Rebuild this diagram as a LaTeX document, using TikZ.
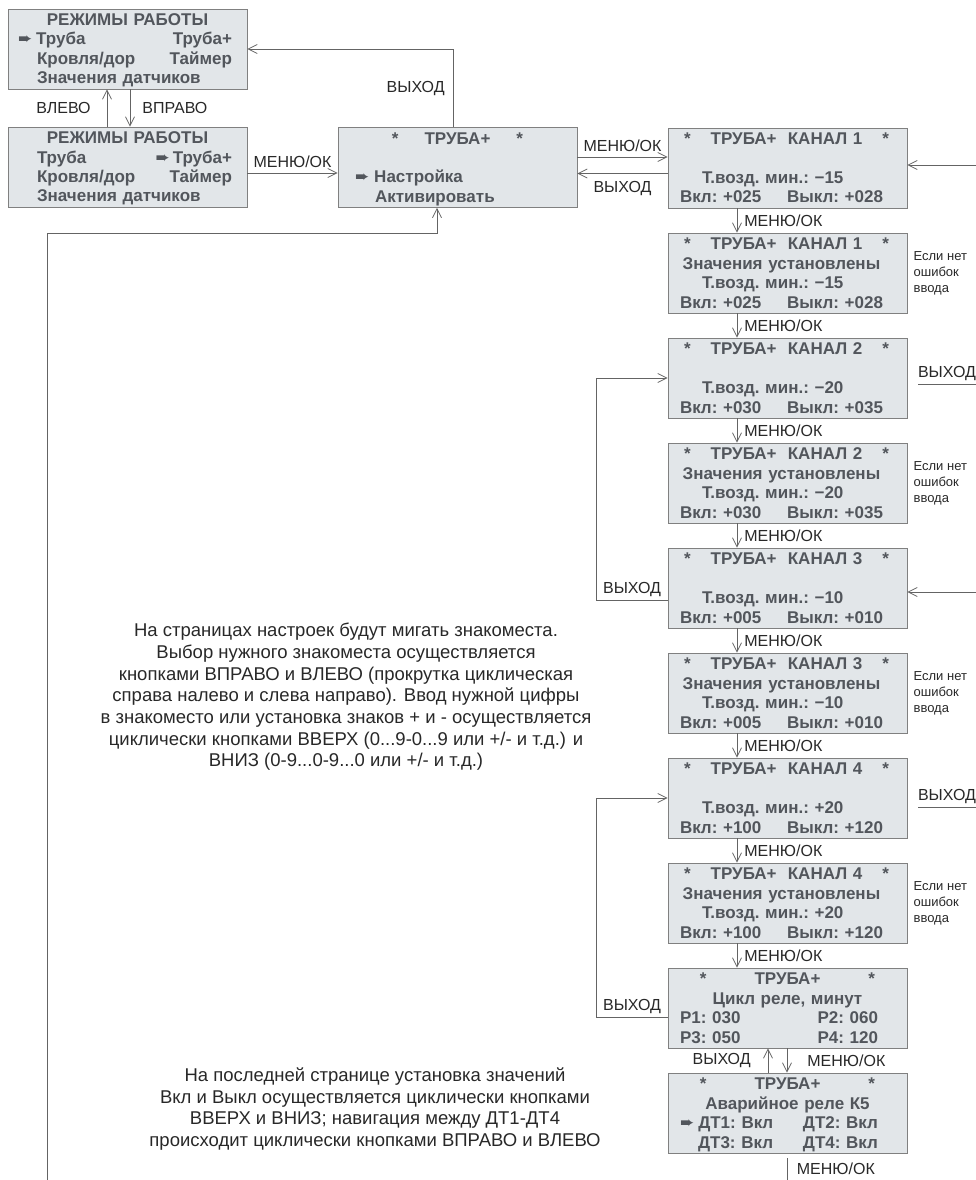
\documentclass[tikz,border=0pt]{standalone}
\usepackage{fontspec}
\setmainfont{Liberation Sans}
\newfontfamily\symfont{DejaVu Sans}
\usetikzlibrary{arrows.meta,positioning}

\definecolor{lcdfill}{RGB}{226,230,233}
\definecolor{lcdborder}{RGB}{128,128,128}
\definecolor{lcdtext}{RGB}{82,86,92}
\definecolor{lbltext}{RGB}{40,40,40}
\definecolor{wirecol}{RGB}{100,100,100}

\tikzset{
  lcd/.style={draw=lcdborder, fill=lcdfill, line width=0.8pt,
    minimum width=239pt, minimum height=80pt, text width=215pt,
    inner xsep=12pt, inner ysep=0pt, align=left, text=lcdtext,
    font=\fontsize{17}{19.5}\selectfont\bfseries\frenchspacing,
    execute at begin node={\rule{0pt}{15.5pt}},
    execute at end node={\rule[-4pt]{0pt}{4pt}}},
  lbl/.style={text=lbltext, inner sep=1pt, font=\fontsize{16}{18}\selectfont},
  note/.style={text=lbltext, inner sep=0pt, align=left, font=\fontsize{13}{16}\selectfont},
  para/.style={text=lbltext, inner sep=0pt, align=center, font=\fontsize{18.5}{21.7}\selectfont},
  wire/.style={draw=wirecol, line width=0.8pt},
  >={Straight Barb[length=9pt,width=9pt]}
}

\newcommand{\pointer}{{\symfont ➨}}
\newcommand{\midline}[1]{\makebox[\linewidth]{#1}}
\newcommand{\rpad}[1]{\hspace*{#1}\mbox{}}

\begin{document}
\begin{tikzpicture}[x=1pt,y=-1pt]
\useasboundingbox (0,0) rectangle (976,1180);

% mode selection
\node[lcd, text width=219pt, inner xsep=10pt] (b1) at (127.5,49)
  {\midline{РЕЖИМЫ РАБОТЫ}\\
   \pointer\hspace{4pt}Труба\hfill Труба+\rpad{5pt}\\
   \hspace*{19pt}Кровля/дор\hfill Таймер\rpad{5pt}\\
   \hspace*{19pt}Значения датчиков};
\node[lcd, text width=219pt, inner xsep=10pt] (b2) at (127.5,167)
  {\midline{РЕЖИМЫ РАБОТЫ}\\
   \hspace*{19pt}Труба\hfill\pointer\hspace{3pt}Труба+\rpad{5pt}\\
   \hspace*{19pt}Кровля/дор\hfill Таймер\rpad{5pt}\\
   \hspace*{19pt}Значения датчиков};
\node[lcd] (b3) at (457.5,167.5)
  {\midline{*\hspace{26pt}ТРУБА+\hspace{26pt}*}\\
   \mbox{}\\
   \hspace*{5pt}\pointer\hspace{5pt}Настройка\\
   \hspace*{25pt}Активировать};

% channel pages
\node[lcd] (c1) at (787.5,168)
  {\hspace*{4pt}*\hfill ТРУБА+~~КАНАЛ 1\hfill *\rpad{6pt}\\
   \mbox{}\\
   \hspace*{22pt}Т.возд. мин.: −15\\
   Вкл: +025\hfill Выкл: +028\rpad{12pt}};
\node[lcd] (s1) at (787.5,273)
  {\hspace*{4pt}*\hfill ТРУБА+~~КАНАЛ 1\hfill *\rpad{6pt}\\
   \midline{Значения установлены\hspace{12pt}}\\
   \hspace*{22pt}Т.возд. мин.: −15\\
   Вкл: +025\hfill Выкл: +028\rpad{12pt}};
\node[lcd] (c2) at (787.5,378)
  {\hspace*{4pt}*\hfill ТРУБА+~~КАНАЛ 2\hfill *\rpad{6pt}\\
   \mbox{}\\
   \hspace*{22pt}Т.возд. мин.: −20\\
   Вкл: +030\hfill Выкл: +035\rpad{12pt}};
\node[lcd] (s2) at (787.5,483)
  {\hspace*{4pt}*\hfill ТРУБА+~~КАНАЛ 2\hfill *\rpad{6pt}\\
   \midline{Значения установлены\hspace{12pt}}\\
   \hspace*{22pt}Т.возд. мин.: −20\\
   Вкл: +030\hfill Выкл: +035\rpad{12pt}};
\node[lcd] (c3) at (787.5,588)
  {\hspace*{4pt}*\hfill ТРУБА+~~КАНАЛ 3\hfill *\rpad{6pt}\\
   \mbox{}\\
   \hspace*{22pt}Т.возд. мин.: −10\\
   Вкл: +005\hfill Выкл: +010\rpad{12pt}};
\node[lcd] (s3) at (787.5,693)
  {\hspace*{4pt}*\hfill ТРУБА+~~КАНАЛ 3\hfill *\rpad{6pt}\\
   \midline{Значения установлены\hspace{12pt}}\\
   \hspace*{22pt}Т.возд. мин.: −10\\
   Вкл: +005\hfill Выкл: +010\rpad{12pt}};
\node[lcd] (c4) at (787.5,798)
  {\hspace*{4pt}*\hfill ТРУБА+~~КАНАЛ 4\hfill *\rpad{6pt}\\
   \mbox{}\\
   \hspace*{22pt}Т.возд. мин.: +20\\
   Вкл: +100\hfill Выкл: +120\rpad{12pt}};
\node[lcd] (s4) at (787.5,903)
  {\hspace*{4pt}*\hfill ТРУБА+~~КАНАЛ 4\hfill *\rpad{6pt}\\
   \midline{Значения установлены\hspace{12pt}}\\
   \hspace*{22pt}Т.возд. мин.: +20\\
   Вкл: +100\hfill Выкл: +120\rpad{12pt}};
\node[lcd] (cy) at (787.5,1008)
  {\midline{*\hspace{48pt}ТРУБА+\hspace{48pt}*}\\
   \midline{Цикл реле, минут}\\
   Р1: 030\hfill Р2: 060\rpad{17pt}\\
   Р3: 050\hfill Р4: 120\rpad{17pt}};
\node[lcd] (al) at (787.5,1113)
  {\midline{*\hspace{48pt}ТРУБА+\hspace{48pt}*}\\
   \midline{Аварийное реле К5}\\
   \pointer\hspace{4pt}ДТ1: Вкл\hfill ДТ2: Вкл\rpad{17pt}\\
   \hspace*{18pt}ДТ3: Вкл\hfill ДТ4: Вкл\rpad{17pt}};

% notes beside the confirmation pages
\node[note, right=6pt of s1] (n1) {Если нет\\ошибок\\ввода};
\node[note, right=6pt of s2] (n2) {Если нет\\ошибок\\ввода};
\node[note, right=6pt of s3] (n3) {Если нет\\ошибок\\ввода};
\node[note, right=6pt of s4] (n4) {Если нет\\ошибок\\ввода};

% explanations
\node[para] (t1) at (346,697)
  {На страницах настроек будут мигать знакоместа.\\
   Выбор нужного знакоместа осуществляется\\
   кнопками ВПРАВО и ВЛЕВО (прокрутка циклическая\\
   справа налево и слева направо). Ввод нужной цифры\\
   в знакоместо или установка знаков + и - осуществляется\\
   циклически кнопками ВВЕРХ (0...9-0...9 или +/- и т.д.) и\\
   ВНИЗ (0-9...0-9...0 или +/- и т.д.)};
\node[para] (t2) at (375,1109)
  {На последней странице установка значений\\
   Вкл и Выкл осуществляется циклически кнопками\\
   ВВЕРХ и ВНИЗ; навигация между ДТ1-ДТ4\\
   происходит циклически кнопками ВПРАВО и ВЛЕВО};

% free ends leaving the page
\coordinate (e1) at (976,165);
\coordinate (e3) at (976,592);
\coordinate (x2a) at (918,384);
\coordinate (x2b) at (976,384);
\coordinate (x4a) at (918,807);
\coordinate (x4b) at (976,807);
\coordinate (lb) at (47,1180);
\coordinate (bm) at (787.5,1180);

% connectors
\draw[wire,->] ([xshift=-20.5pt]b2.north) -- node[lbl, left=15pt]{ВЛЕВО} ([xshift=-20.5pt]b1.south);
\draw[wire,->] ([xshift=2.5pt]b1.south) -- node[lbl, right=11pt]{ВПРАВО} ([xshift=2.5pt]b2.north);
\draw[wire,->] ([yshift=-6pt]b2.east) -- node[lbl, above=4pt]{МЕНЮ/ОК} ([yshift=-6pt]b2.east -| b3.west);
\draw[wire,->] ([xshift=-4.5pt]b3.north) |- node[lbl, pos=0.25, left=7pt]{ВЫХОД} (b1.east);
\draw[wire,->] ([yshift=10.5pt]b3.east) -- node[lbl, above=4pt]{МЕНЮ/ОК} ([yshift=10.5pt]b3.east -| c1.west);
\draw[wire,->] ([yshift=-5.5pt]c1.west) -- node[lbl, below=6pt]{ВЫХОД} ([yshift=-5.5pt]c1.west -| b3.east);
\draw[wire,->] (lb) |- ([xshift=-20.5pt, yshift=-25pt]b3.south) -- ([xshift=-20.5pt]b3.south);

\draw[wire,->] ([xshift=-50.5pt]c1.south) -- node[lbl, right=6pt]{МЕНЮ/ОК} ([xshift=-50.5pt]s1.north);
\draw[wire,->] ([xshift=-50.5pt]s1.south) -- node[lbl, right=6pt]{МЕНЮ/ОК} ([xshift=-50.5pt]c2.north);
\draw[wire,->] ([xshift=-50.5pt]c2.south) -- node[lbl, right=6pt]{МЕНЮ/ОК} ([xshift=-50.5pt]s2.north);
\draw[wire,->] ([xshift=-50.5pt]s2.south) -- node[lbl, right=6pt]{МЕНЮ/ОК} ([xshift=-50.5pt]c3.north);
\draw[wire,->] ([xshift=-50.5pt]c3.south) -- node[lbl, right=6pt]{МЕНЮ/ОК} ([xshift=-50.5pt]s3.north);
\draw[wire,->] ([xshift=-50.5pt]s3.south) -- node[lbl, right=6pt]{МЕНЮ/ОК} ([xshift=-50.5pt]c4.north);
\draw[wire,->] ([xshift=-50.5pt]c4.south) -- node[lbl, right=6pt]{МЕНЮ/ОК} ([xshift=-50.5pt]s4.north);
\draw[wire,->] ([xshift=-50.5pt]s4.south) -- node[lbl, right=6pt]{МЕНЮ/ОК} ([xshift=-50.5pt]cy.north);
\draw[wire,->] ([xshift=-19.5pt]al.north) -- node[lbl, left=16pt]{ВЫХОД} ([xshift=-19.5pt]cy.south);
\draw[wire,->] ([xshift=-0.5pt]cy.south) -- node[lbl, right=19pt]{МЕНЮ/ОК} ([xshift=-0.5pt]al.north);
\draw[wire] ([yshift=-5pt]al.south) -- node[lbl, right=8pt]{МЕНЮ/ОК} (bm);

\draw[wire,->] ([yshift=-12pt]c3.west) -- node[lbl, above=2pt]{ВЫХОД} ++(-71,0) |- (c2.west);
\draw[wire,->] ([yshift=-9pt]cy.west) -- node[lbl, above=2pt]{ВЫХОД} ++(-71,0) |- (c4.west);

\draw[wire,->] (e1) -- (e1 -| c1.east);
\draw[wire,->] (e3) -- (e3 -| c3.east);
\draw[wire] (x2a) -- node[lbl, above=2pt]{ВЫХОД} (x2b);
\draw[wire] (x4a) -- node[lbl, above=2pt]{ВЫХОД} (x4b);
\end{tikzpicture}
\end{document}
